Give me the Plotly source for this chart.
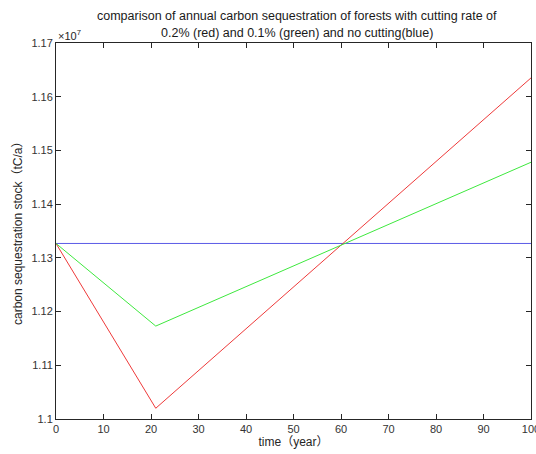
import plotly.graph_objects as go

years = [0, 21, 100]
no_cutting = [1.13268e7, 1.13268e7, 1.13268e7]
cut_02 = [1.13268e7, 1.10200e7, 1.16350e7]
cut_01 = [1.13268e7, 1.11730e7, 1.14780e7]

x_ticks = [0, 10, 20, 30, 40, 50, 60, 70, 80, 90, 100]
y_ticks = [1.10e7, 1.11e7, 1.12e7, 1.13e7, 1.14e7, 1.15e7, 1.16e7, 1.17e7]
y_tick_labels = ["1.1", "1.11", "1.12", "1.13", "1.14", "1.15", "1.16", "1.17"]

title_line1 = "comparison of annual carbon sequestration of forests with cutting rate of"
title_line2 = "0.2% (red) and 0.1% (green) and no cutting(blue)"

FONT = "Liberation Sans, Arial, Noto Sans CJK SC, sans-serif"

fig = go.Figure()
fig.add_trace(go.Scatter(x=years, y=no_cutting, mode="lines",
                         line=dict(color="#5a5ae6", width=1), name="no cutting"))
fig.add_trace(go.Scatter(x=years, y=cut_02, mode="lines",
                         line=dict(color="#ee3a3a", width=1), name="0.2%"))
fig.add_trace(go.Scatter(x=years, y=cut_01, mode="lines",
                         line=dict(color="#3ee83e", width=1), name="0.1%"))

axis_common = dict(
    showgrid=False, zeroline=False, showline=True, linecolor="#262626",
    linewidth=1, mirror="ticks", ticks="inside", ticklen=5, tickcolor="#262626",
    tickfont=dict(family=FONT, size=11, color="#333333"),
    automargin=False, ticklabeloverflow="allow",
)

W, H = 536, 454
L, R, T, B = 56, 5, 43, 35

fig.update_layout(
    width=W, height=H,
    paper_bgcolor="white", plot_bgcolor="white",
    margin=dict(l=L, r=R, t=T, b=B),
    showlegend=False,
    font=dict(family=FONT, size=11, color="#262626"),
    xaxis=dict(range=[0, 100], tickvals=x_ticks,
               title=dict(text="time（year）", standoff=1,
                          font=dict(family=FONT, size=12, color="#262626")),
               **axis_common),
    yaxis=dict(range=[1.10e7, 1.17e7], tickvals=y_ticks, ticktext=y_tick_labels,
               **axis_common),
)

# chart title, two lines
for txt, shift in ((title_line1, 27.5), (title_line2, 9.7)):
    fig.add_annotation(
        xref="paper", yref="paper", x=0.508, y=1,
        xanchor="center", yanchor="middle", yshift=shift,
        text=txt, showarrow=False,
        font=dict(family=FONT, size=12.5, color="#1a1a1a"),
    )

fig.add_annotation(
    xref="paper", yref="paper", x=0, y=0.5, xanchor="center", yanchor="middle",
    xshift=-(L - 18), textangle=-90,
    text="carbon sequestration stock（tC/a）", showarrow=False,
    font=dict(family=FONT, size=12, color="#262626"),
)

fig.add_annotation(
    xref="paper", yref="paper", x=0, y=1, xanchor="left", yanchor="bottom",
    text="×10<sup>7</sup>", showarrow=False, yshift=-1,
    font=dict(family=FONT, size=11, color="#262626"),
)

# remove the default page margin / scrollbars so the figure fills the window
fig.write_html(
    "out.html",
    config={"displayModeBar": False},
    post_script="document.body.style.margin='0';"
                "document.documentElement.style.overflow='hidden';"
                "document.body.style.overflow='hidden';",
)
